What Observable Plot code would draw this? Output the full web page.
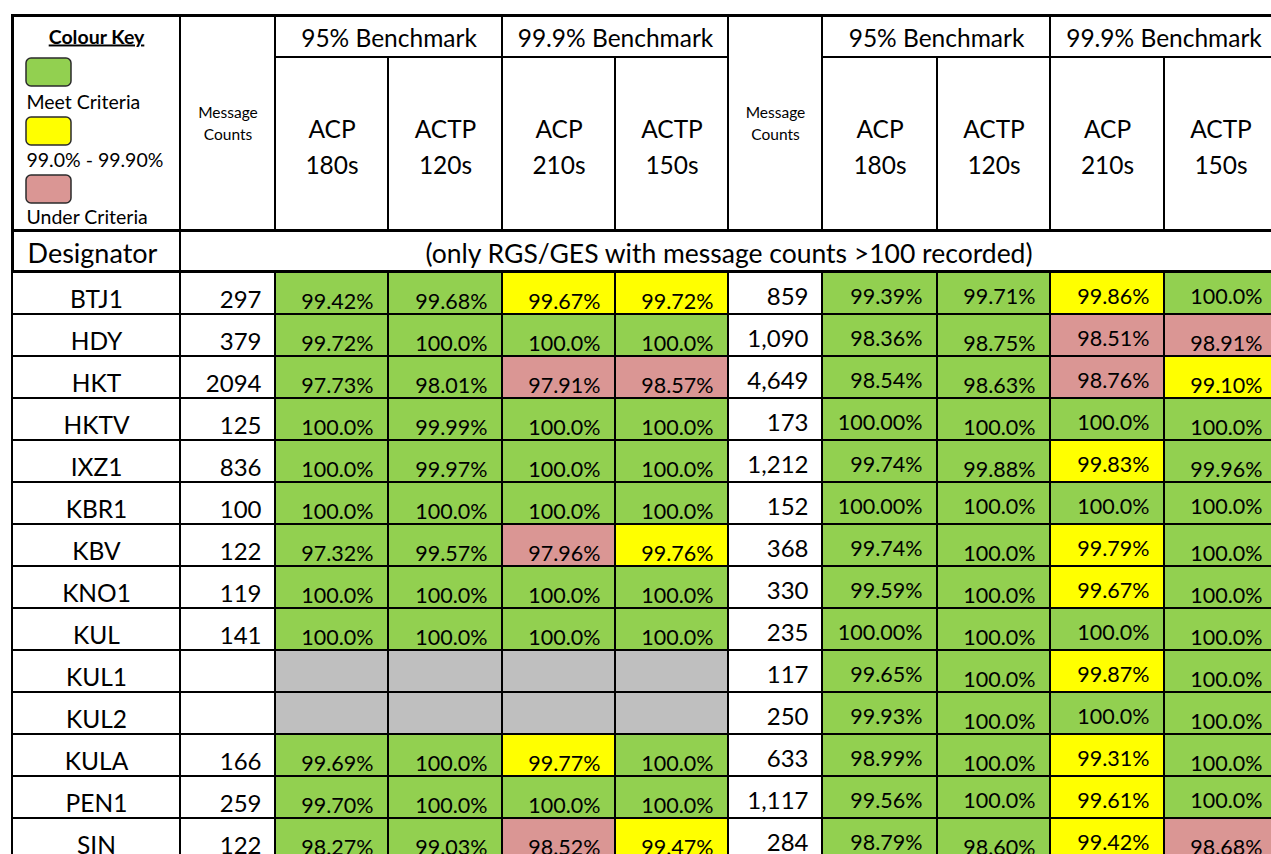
<!DOCTYPE html>
<html>
<head>
<meta charset="utf-8">
<script src="https://cdn.jsdelivr.net/npm/d3@7"></script>
<script src="https://cdn.jsdelivr.net/npm/@observablehq/plot@0.6"></script>
<style>
  html, body { margin: 0; padding: 0; background: white; overflow: hidden; }
  #chart svg { display: block; }
</style>
</head>
<body>
<div id="chart"></div>
<script>
// ---------- data ----------
const designators = ["BTJ1","HDY","HKT","HKTV","IXZ1","KBR1","KBV","KNO1","KUL","KUL1","KUL2","KULA","PEN1","SIN"];
const countsA  = ["297","379","2094","125","836","100","122","119","141","","","166","259","122"];
const acp180A  = ["99.42%","99.72%","97.73%","100.0%","100.0%","100.0%","97.32%","100.0%","100.0%",null,null,"99.69%","99.70%","98.27%"];
const actp120A = ["99.68%","100.0%","98.01%","99.99%","99.97%","100.0%","99.57%","100.0%","100.0%",null,null,"100.0%","100.0%","99.03%"];
const acp210A  = ["99.67%","100.0%","97.91%","100.0%","100.0%","100.0%","97.96%","100.0%","100.0%",null,null,"99.77%","100.0%","98.52%"];
const actp150A = ["99.72%","100.0%","98.57%","100.0%","100.0%","100.0%","99.76%","100.0%","100.0%",null,null,"100.0%","100.0%","99.47%"];
const countsB  = ["859","1,090","4,649","173","1,212","152","368","330","235","117","250","633","1,117","284"];
const acp180B  = ["99.39%","98.36%","98.54%","100.00%","99.74%","100.00%","99.74%","99.59%","100.00%","99.65%","99.93%","98.99%","99.56%","98.79%"];
const actp120B = ["99.71%","98.75%","98.63%","100.0%","99.88%","100.0%","100.0%","100.0%","100.0%","100.0%","100.0%","100.0%","100.0%","98.60%"];
const acp210B  = ["99.86%","98.51%","98.76%","100.0%","99.83%","100.0%","99.79%","99.67%","100.0%","99.87%","100.0%","99.31%","99.61%","99.42%"];
const actp150B = ["100.0%","98.91%","99.10%","100.0%","99.96%","100.0%","100.0%","100.0%","100.0%","100.0%","100.0%","100.0%","100.0%","98.68%"];

const benchLabels  = ["95% Benchmark","99.9% Benchmark"];
const benchLevels  = [95, 99.9];
const metricLabels = ["ACP\n180s","ACTP\n120s","ACP\n210s","ACTP\n150s"];
const countsLabel  = "Message\nCounts";
const keyTitle     = "Colour Key";
const keyStatuses  = ["meet","near","under"];
const keyLabels    = ["Meet Criteria","99.0% - 99.90%","Under Criteria"];
const designatorLabel = "Designator";
const noteLabel    = "(only RGS/GES with message counts >100 recorded)";

// ---------- layout & style ----------
const W = 1271;
const E = [12,180,275,388,502,615,728,822,937,1050,1164,1277]; // column edges
const H = [15,57,230,271];                                      // header row edges
const rowH = 42.15;
const statusDomain = ["meet","near","under","na"];
const statusRange  = ["#92D050","#FFFF00","#DA9694","#BFBFBF"];
const midRowsB = new Set(["BTJ1","KBR1","PEN1"]);
const FONT = "Lato, Carlito, Calibri, 'Open Sans', sans-serif";

function status(label, bench) {
  if (label == null) return "na";
  const v = parseFloat(label);
  if (bench === 95) return v >= 95 ? "meet" : "under";
  return v >= 99.9 ? "meet" : v >= 99 ? "near" : "under";
}

// ---------- body rows ----------
const blocks = [
  {counts: countsA, series: [acp180A, actp120A, acp210A, actp150A], countCol: 1, side: "A"},
  {counts: countsB, series: [acp180B, actp120B, acp210B, actp150B], countCol: 6, side: "B"}
];
const whiteCells = [];
const valueCells = [];
const pctTexts = [];
const countTexts = [];
designators.forEach((d, i) => {
  whiteCells.push({row: d, x1: E[0], x2: E[1]});
  blocks.forEach(b => {
    whiteCells.push({row: d, x1: E[b.countCol], x2: E[b.countCol + 1]});
    countTexts.push({row: d, x: E[b.countCol + 1], label: b.counts[i], side: b.side});
    b.series.forEach((s, k) => {
      const c = b.countCol + 1 + k;
      const st = status(s[i], benchLevels[k < 2 ? 0 : 1]);
      valueCells.push({row: d, x1: E[c], x2: E[c + 1], status: st});
      if (s[i] != null) {
        let mid = false;
        if (b.side === "B") mid = (k === 0 || k === 2) || midRowsB.has(d);
        pctTexts.push({row: d, x: E[c + 1], label: s[i], mid});
      }
    });
  });
});

// ---------- header cells ----------
const headerCells = [
  [E[0],H[0],E[1],H[2]], [E[1],H[0],E[2],H[2]],
  [E[2],H[0],E[4],H[1]], [E[4],H[0],E[6],H[1]],
  [E[2],H[1],E[3],H[2]], [E[3],H[1],E[4],H[2]], [E[4],H[1],E[5],H[2]], [E[5],H[1],E[6],H[2]],
  [E[6],H[0],E[7],H[2]],
  [E[7],H[0],E[9],H[1]], [E[9],H[0],E[11],H[1]],
  [E[7],H[1],E[8],H[2]], [E[8],H[1],E[9],H[2]], [E[9],H[1],E[10],H[2]], [E[10],H[1],E[11],H[2]],
  [E[0],H[2],E[1],H[3]], [E[1],H[2],E[11],H[3]]
].map(([x1,y1,x2,y2]) => ({x1,y1,x2,y2}));

const benchTexts = [];
[2, 7].forEach(start => benchLabels.forEach((l, k) =>
  benchTexts.push({x: (E[start + 2*k] + E[start + 2*k + 2]) / 2, label: l})));
const metricTexts = [];
[2, 7].forEach(start => metricLabels.forEach((l, k) =>
  metricTexts.push({x: (E[start + k] + E[start + k + 1]) / 2, label: l})));
const countHeadTexts = [1, 6].map(c => ({x: (E[c] + E[c + 1]) / 2, label: countsLabel}));
const keyItems = keyStatuses.map((s, i) => ({status: s, label: keyLabels[i], i}));
const keyBoxTop = [58, 117, 175];
const keyTextBase = [108, 166, 223];

const colorScale = {domain: statusDomain, range: statusRange, legend: false};
const xScale = {domain: [0, W], range: [0, W]};

const header = Plot.plot({
  width: W, height: H[3],
  margin: 0,
  style: {fontFamily: FONT, background: "white", color: "black"},
  x: {...xScale, axis: null},
  y: {domain: [0, H[3]], range: [0, H[3]], axis: null},
  color: colorScale,
  marks: [
    Plot.rect(headerCells, {x1: "x1", x2: "x2", y1: "y1", y2: "y2", fill: "white", stroke: "black", strokeWidth: 2}),
    Plot.ruleY([H[0], H[2], H[3]], {x1: E[0], x2: E[11], stroke: "black", strokeWidth: 3}),
    Plot.ruleX([E[0]], {y1: H[0], y2: H[3], stroke: "black", strokeWidth: 3}),
    // colour key
    Plot.text([keyTitle], {x: (E[0] + E[1]) / 2, y: 43, text: d => d, fontSize: 19.5, fontWeight: "bold", lineAnchor: "bottom", fill: "black"}),
    Plot.rect(keyItems, {x1: 26, x2: 71, y1: d => keyBoxTop[d.i], y2: d => keyBoxTop[d.i] + 28, fill: "status", stroke: "#2b2b2b", strokeWidth: 1.5, rx: 5}),
    Plot.text(keyItems, {x: 26, y: d => keyTextBase[d.i], text: "label", textAnchor: "start", lineAnchor: "bottom", fontSize: 19.5, fill: "black"}),
    // column headings
    Plot.text(countHeadTexts, {x: "x", y: 139, text: "label", fontSize: 15.5, lineHeight: 1.36, lineAnchor: "bottom", fill: "black"}),
    Plot.text(benchTexts, {x: "x", y: 46, text: "label", fontSize: 24.5, lineAnchor: "bottom", fill: "black"}),
    Plot.text(metricTexts, {x: "x", y: 173, text: "label", fontSize: 24.5, lineHeight: 1.43, lineAnchor: "bottom", fill: "black"}),
    Plot.text([designatorLabel], {x: 92, y: 262, text: d => d, fontSize: 27, lineAnchor: "bottom", fill: "black"}),
    Plot.text([noteLabel], {x: (E[1] + E[11]) / 2, y: 262, text: d => d, fontSize: 26.5, lineAnchor: "bottom", fill: "black"})
  ]
});

d3.select(header).selectAll("text").filter(function() { return this.textContent === keyTitle; })
  .style("text-decoration", "underline");

const body = Plot.plot({
  width: W, height: 854 - H[3],
  margin: 0,
  style: {fontFamily: FONT, background: "white", color: "black"},
  x: {...xScale, axis: null},
  y: {type: "band", domain: designators, range: [0, designators.length * rowH], padding: 0, axis: null},
  color: colorScale,
  marks: [
    Plot.rect(whiteCells, {x1: "x1", x2: "x2", y: "row", fill: "white", stroke: "black", strokeWidth: 2}),
    Plot.rect(valueCells, {x1: "x1", x2: "x2", y: "row", fill: "status", stroke: "black", strokeWidth: 2}),
    Plot.ruleY([0], {x1: E[0], x2: E[11], stroke: "black", strokeWidth: 3}),
    Plot.ruleX([E[0]], {y1: 0, y2: 854, stroke: "black", strokeWidth: 3}),
    Plot.text(designators, {x: (E[0] + E[1]) / 2, y: d => d, text: d => d, fontSize: 24.5, lineAnchor: "bottom", dy: 14, fill: "black"}),
    Plot.text(countTexts.filter(d => d.side === "A"), {x: "x", y: "row", text: "label", textAnchor: "end", dx: -14, fontSize: 24, lineAnchor: "bottom", dy: 14, fill: "black"}),
    Plot.text(countTexts.filter(d => d.side === "B"), {x: "x", y: "row", text: "label", textAnchor: "end", dx: -14, fontSize: 24, lineAnchor: "bottom", dy: 11, fill: "black"}),
    Plot.text(pctTexts.filter(d => !d.mid), {x: "x", y: "row", text: "label", textAnchor: "end", dx: -15, fontSize: 21.5, lineAnchor: "bottom", dy: 15, fill: "black"}),
    Plot.text(pctTexts.filter(d => d.mid), {x: "x", y: "row", text: "label", textAnchor: "end", dx: -15, fontSize: 21.5, lineAnchor: "bottom", dy: 10, fill: "black"})
  ]
});

const chart = document.getElementById("chart");
chart.appendChild(header);
chart.appendChild(body);
</script>
</body>
</html>
